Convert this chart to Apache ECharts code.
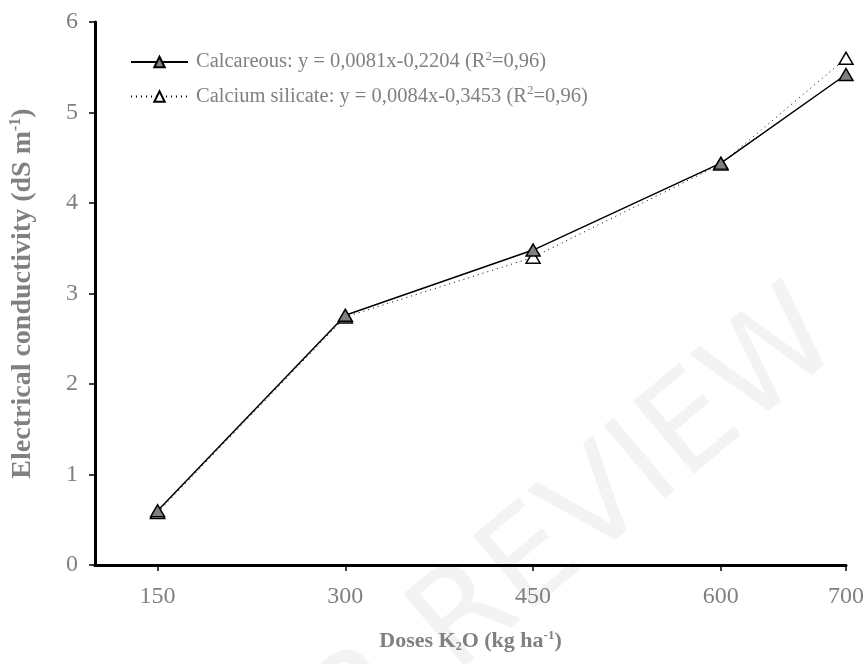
<!DOCTYPE html>
<html>
<head>
<meta charset="utf-8">
<script src="https://cdn.jsdelivr.net/npm/echarts@6/dist/echarts.min.js"></script>
<style>
html,body{margin:0;padding:0;background:#fff;}
#chart{width:867px;height:664px;}
</style>
</head>
<body>
<div id="chart"></div>
<script>
const doses = [150, 300, 450, 600, 700];
const xTickLabels = [150, 300, 450, 600, 700];
const calcareous = [0.60, 2.76, 3.48, 4.44, 5.42];
const calciumSilicate = [0.58, 2.74, 3.40, 4.43, 5.60];
const seriesNames = ['Calcareous', 'Calcium silicate'];
const legendLabels = {
  'Calcareous': ['Calcareous: y = 0,0081x-0,2204 (R', '2', '=0,96)'],
  'Calcium silicate': ['Calcium silicate: y = 0,0084x-0,3453 (R', '2', '=0,96)']
};

const FONT = '"Liberation Serif", "Times New Roman", serif';
const GRAY = '#808080';

const chart = echarts.init(document.getElementById('chart'), null, {renderer: 'canvas'});
const pairs = (ys) => doses.map((d, i) => [d, ys[i]]);

chart.setOption({
  animation: false,
  backgroundColor: '#ffffff',
  graphic: [{
    type: 'text',
    z: -10,
    silent: true,
    x: 485, y: 605,
    rotation: 40 * Math.PI / 180,
    style: {
      text: 'PEER REVIEW',
      font: '130px "DejaVu Sans", sans-serif',
      fill: '#f3f3f3',
      align: 'center',
      verticalAlign: 'middle'
    }
  }],
  grid: {left: 93, right: 20, top: 22, bottom: 99},
  legend: {
    orient: 'vertical',
    left: 125,
    top: 45,
    itemWidth: 57,
    itemHeight: 13,
    itemGap: 12,
    data: seriesNames,
    formatter: (name) => {
      const p = legendLabels[name];
      return '{g|}{n|' + p[0] + '}{s|' + p[1] + '}{n|' + p[2] + '}';
    },
    textStyle: {
      fontFamily: FONT,
      fontSize: 20.5,
      color: GRAY,
      rich: {
        g: {width: 3},
        n: {fontFamily: FONT, fontSize: 20.5, color: GRAY},
        s: {fontFamily: FONT, fontSize: 13, color: GRAY, verticalAlign: 'top', padding: [0, 0, 11, 0]}
      }
    }
  },
  xAxis: {
    type: 'value',
    min: 100,
    max: 700,
    splitLine: {show: false},
    axisLine: {lineStyle: {color: '#000', width: 3}},
    axisTick: {show: true, length: 6, lineStyle: {color: '#000', width: 1.5}, customValues: xTickLabels},
    axisLabel: {customValues: xTickLabels, color: GRAY, fontFamily: FONT, fontSize: 24, margin: 20},
    name: '{b|Doses K}{sub|2}{b|O (kg ha}{sup|-1}{b|)}',
    nameLocation: 'middle',
    nameGap: 64,
    nameTextStyle: {
      rich: {
        b: {fontFamily: FONT, fontSize: 22, fontWeight: 'bold', color: GRAY},
        sub: {fontFamily: FONT, fontSize: 12, fontWeight: 'bold', color: GRAY, verticalAlign: 'bottom', padding: [9, 0, 0, 0]},
        sup: {fontFamily: FONT, fontSize: 13, fontWeight: 'bold', color: GRAY, verticalAlign: 'top', padding: [0, 0, 11, 0]}
      }
    }
  },
  yAxis: {
    type: 'value',
    min: 0,
    max: 6,
    interval: 1,
    splitLine: {show: false},
    axisLine: {show: true, lineStyle: {color: '#000', width: 3}},
    axisTick: {show: true, length: 6, lineStyle: {color: '#000', width: 1.5}},
    axisLabel: {color: GRAY, fontFamily: FONT, fontSize: 24, margin: 17},
    name: '{b|Electrical conductivity (dS m}{sup|-1}{b|)}',
    nameLocation: 'middle',
    nameGap: 58,
    nameTextStyle: {
      rich: {
        b: {fontFamily: FONT, fontSize: 28, fontWeight: 'bold', color: GRAY},
        sup: {fontFamily: FONT, fontSize: 16, fontWeight: 'bold', color: GRAY, verticalAlign: 'top', padding: [0, 0, 13, 0]}
      }
    }
  },
  series: [
    {
      name: seriesNames[0],
      type: 'line',
      z: 4,
      data: pairs(calcareous),
      symbol: 'triangle',
      symbolSize: [14, 12],
      lineStyle: {color: '#000', width: 1.5, type: 'solid'},
      itemStyle: {color: '#808080', borderColor: '#000', borderWidth: 1.5},
      emphasis: {disabled: true}
    },
    {
      name: seriesNames[1],
      type: 'line',
      z: 3,
      data: pairs(calciumSilicate),
      symbol: 'triangle',
      symbolSize: [14, 12],
      lineStyle: {color: '#000', width: 1, type: [1, 4]},
      itemStyle: {color: '#ffffff', borderColor: '#000', borderWidth: 1.5},
      emphasis: {disabled: true}
    }
  ]
});
</script>
</body>
</html>
